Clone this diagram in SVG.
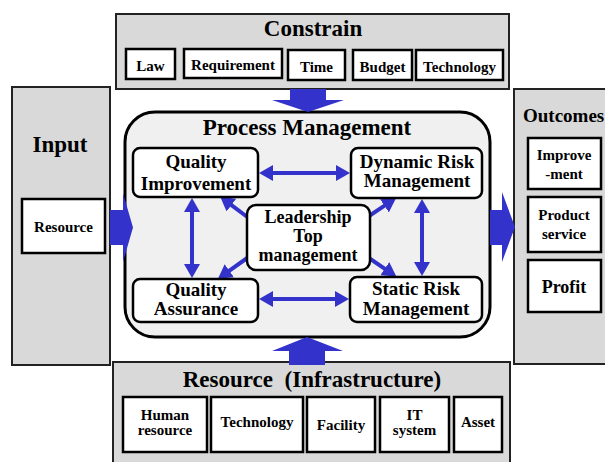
<svg xmlns="http://www.w3.org/2000/svg" width="605" height="462" viewBox="0 0 605 462">
<style>
text{font-family:"Liberation Serif","Times New Roman",serif;font-weight:bold;fill:#000;text-anchor:middle}
.panel{fill:#d9d9d9;stroke:#222;stroke-width:2}
.box{fill:#fff;stroke:#000;stroke-width:2.5}
.node{fill:#fff;stroke:#000;stroke-width:2.5}
.t{font-size:23px}
.s{font-size:15px}
.n{font-size:19px}
.l{font-size:18px}
.conn{stroke:#3333cc;stroke-width:4;fill:none}
.blk{fill:#3333cc}
</style>
<defs>
<marker id="ah" viewBox="0 0 14 16" refX="2" refY="8" markerWidth="14" markerHeight="16" markerUnits="userSpaceOnUse" orient="auto-start-reverse">
<path d="M0,0 L14,8 L0,16 z" fill="#3333cc"/>
</marker>
</defs>

<g id="constrain">
<rect class="panel" x="116" y="14" width="393" height="75"/>
<text class="t" x="313" y="36">Constrain</text>
<rect class="box" x="126" y="49" width="49" height="30"/>
<text class="s" x="150.5" y="71">Law</text>
<rect class="box" x="184" y="49" width="98" height="29"/>
<text class="s" x="233" y="70">Requirement</text>
<rect class="box" x="288" y="50" width="57" height="30"/>
<text class="s" x="316.5" y="72">Time</text>
<rect class="box" x="353" y="50" width="59" height="30"/>
<text class="s" x="382.5" y="72">Budget</text>
<rect class="box" x="416" y="50" width="87" height="30"/>
<text class="s" x="459.5" y="72">Technology</text>
</g>

<g id="input">
<rect class="panel" x="12" y="87" width="98" height="278"/>
<text class="t" x="60" y="152">Input</text>
<rect class="box" x="22" y="199" width="83" height="54"/>
<text class="s" x="63.5" y="232">Resource</text>
</g>

<g id="outcomes">
<rect class="panel" x="514" y="89" width="100" height="275"/>
<text class="n" x="523" y="122" style="text-anchor:start">Outcomes</text>
<rect class="box" x="528" y="138" width="73" height="51"/>
<text class="s" x="564" y="160">Improve</text>
<text class="s" x="564" y="179">-ment</text>
<rect class="box" x="528" y="197" width="73" height="55"/>
<text class="s" x="564" y="220">Product</text>
<text class="s" x="564" y="239">service</text>
<rect class="box" x="528" y="260" width="73" height="52"/>
<text x="564" y="293" style="font-size:18px">Profit</text>
</g>

<g id="resource-infrastructure">
<rect class="panel" x="113" y="362" width="397" height="110"/>
<text class="t" x="312" y="387">Resource&#160; (Infrastructure)</text>
<rect class="box" x="123" y="397" width="84" height="55"/>
<text class="s" x="165" y="420">Human</text>
<text class="s" x="165" y="435">resource</text>
<rect class="box" x="211" y="397" width="92" height="55"/>
<text class="s" x="257" y="427">Technology</text>
<rect class="box" x="307" y="397" width="68" height="55"/>
<text class="s" x="341" y="430">Facility</text>
<rect class="box" x="380" y="397" width="69" height="55"/>
<text class="s" x="414.5" y="420">IT</text>
<text class="s" x="414.5" y="435">system</text>
<rect class="box" x="454" y="397" width="48" height="55"/>
<text class="s" x="478" y="427">Asset</text>
</g>

<g id="process-management">
<rect x="125" y="112" width="365" height="225" rx="30" fill="#f0f0f0" stroke="#000" stroke-width="3"/>
<text class="t" x="307" y="135">Process Management</text>
</g>

<g id="connectors">
<line class="conn" x1="271" y1="173" x2="338" y2="173" marker-start="url(#ah)" marker-end="url(#ah)"/>
<line class="conn" x1="271" y1="299" x2="337" y2="299" marker-start="url(#ah)" marker-end="url(#ah)"/>
<line class="conn" x1="192" y1="210" x2="192" y2="266" marker-start="url(#ah)" marker-end="url(#ah)"/>
<line class="conn" x1="422" y1="211" x2="422" y2="264" marker-start="url(#ah)" marker-end="url(#ah)"/>
<line class="conn" x1="250" y1="219" x2="229.8" y2="203.9" marker-end="url(#ah)"/>
<line class="conn" x1="366" y1="218" x2="386.1" y2="204.7" marker-end="url(#ah)"/>
<line class="conn" x1="250" y1="256" x2="227.7" y2="271.9" marker-end="url(#ah)"/>
<line class="conn" x1="366" y1="256" x2="386.4" y2="269.8" marker-end="url(#ah)"/>
<polygon class="blk" points="290,89 326,89 326,100 344,100 308,112 272,100 290,100"/>
<polygon class="blk" points="307,337 343,351 325,351 325,365 289,365 289,351 272,351"/>
<polygon class="blk" points="110,210 123,210 123,193 133,227.5 123,262 123,245 110,245"/>
<polygon class="blk" points="490,210 502,210 502,192 515,227 502,262 502,245 490,245"/>
</g>

<g id="quality-improvement">
<rect class="node" x="133" y="148" width="125" height="49" rx="7"/>
<text class="n" x="196" y="168">Quality</text>
<text class="n" x="196" y="190">Improvement</text>
</g>
<g id="dynamic-risk-management">
<rect class="node" x="351" y="148" width="131" height="50" rx="7"/>
<text class="n" x="417" y="168">Dynamic Risk</text>
<text class="n" x="417" y="187">Management</text>
</g>
<g id="leadership">
<rect class="node" x="247" y="205" width="123" height="65" rx="9"/>
<text class="l" x="308" y="223">Leadership</text>
<text class="l" x="308" y="242">Top</text>
<text class="l" x="308" y="261">management</text>
</g>
<g id="quality-assurance">
<rect class="node" x="133" y="279" width="125" height="43" rx="7"/>
<text class="n" x="196" y="296">Quality</text>
<text class="n" x="196" y="315">Assurance</text>
</g>
<g id="static-risk-management">
<rect class="node" x="350" y="277" width="132" height="45" rx="7"/>
<text class="n" x="416" y="295">Static Risk</text>
<text class="n" x="416" y="315">Management</text>
</g>
</svg>
